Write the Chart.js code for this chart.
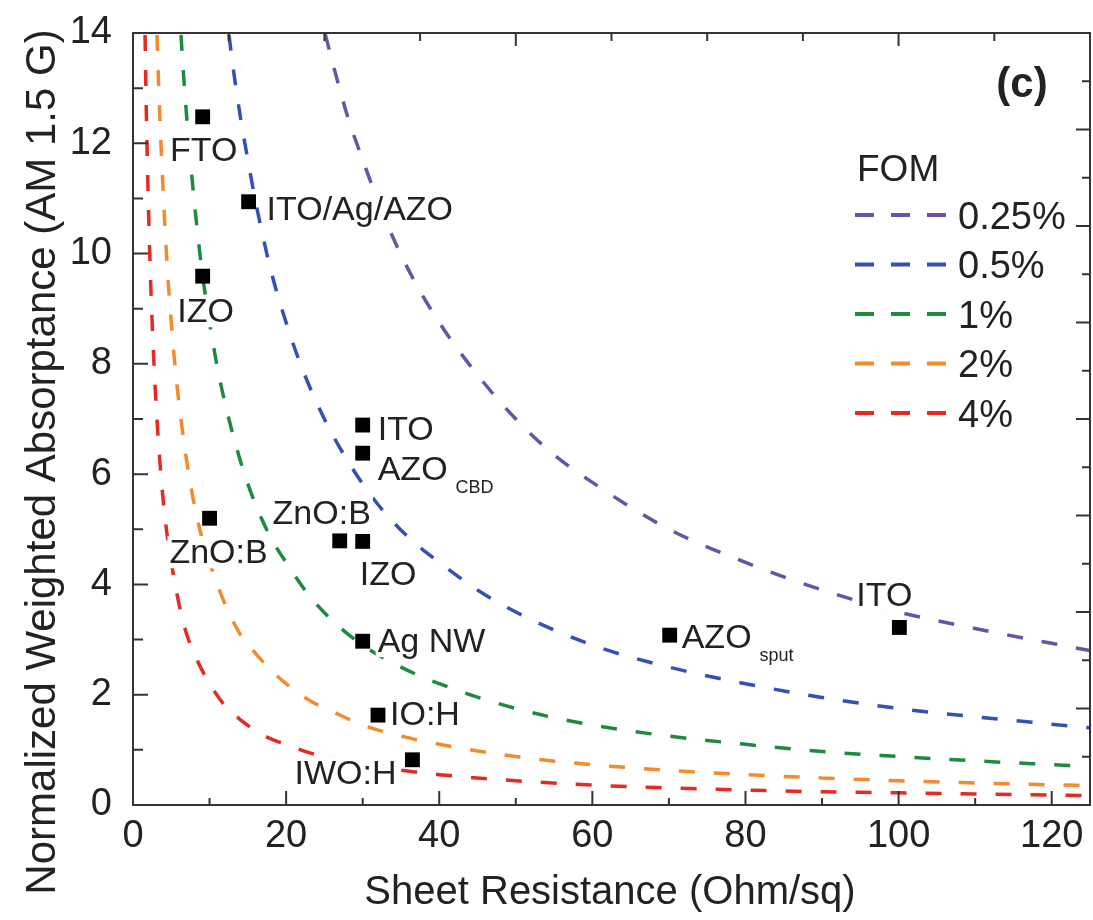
<!DOCTYPE html>
<html>
<head>
<meta charset="utf-8">
<script src="https://cdn.jsdelivr.net/npm/chart.js@4.4.1/dist/chart.umd.min.js"></script>
<style>
html, body { margin: 0; padding: 0; background: #fff; }
#wrap { width: 1093px; height: 920px; }
</style>
</head>
<body>
<div id="wrap"><canvas id="fomChart" width="1093" height="920"></canvas></div>
<script>
// axis ticks
const xTicks = [0, 20, 40, 60, 80, 100, 120];
const yTicks = [0, 2, 4, 6, 8, 10, 12, 14];

// FOM iso-lines
const fomNames = ['0.25%', '0.5%', '1%', '2%', '4%'];
const fom025X = [24, 26, 28, 30, 33, 36, 40, 45, 50, 55, 60, 70, 80, 90, 100, 110, 125];
const fom025Y = [14.6, 13.5, 12.5, 11.7, 10.6, 9.7, 8.75, 7.8, 7.0, 6.35, 5.85, 5.0, 4.4, 3.9, 3.5, 3.2, 2.8];
const fom05X = [12, 13, 14, 15, 16, 18, 20, 22, 25, 28, 32, 36, 40, 45, 50, 60, 70, 80, 90, 100, 110, 125];
const fom05Y = [14.6, 13.45, 12.5, 11.7, 10.95, 9.7, 8.75, 7.95, 7.0, 6.25, 5.45, 4.85, 4.4, 3.9, 3.5, 2.9, 2.5, 2.2, 1.95, 1.75, 1.6, 1.4];
const fom1X = [6, 6.5, 7, 8, 9, 10, 11, 12, 14, 16, 18, 20, 23, 26, 30, 35, 40, 50, 60, 70, 80, 90, 100, 110, 125];
const fom1Y = [14.6, 13.45, 12.5, 10.95, 9.7, 8.75, 7.95, 7.3, 6.25, 5.45, 4.85, 4.4, 3.8, 3.35, 2.9, 2.5, 2.2, 1.75, 1.45, 1.25, 1.1, 0.97, 0.88, 0.8, 0.7];
const fom2X = [3, 3.25, 3.5, 4, 4.5, 5, 5.5, 6, 7, 8, 9, 10, 12, 14, 16, 18, 20, 23, 26, 30, 35, 40, 50, 60, 70, 80, 90, 100, 110, 125];
const fom2Y = [14.6, 13.45, 12.5, 10.95, 9.7, 8.75, 7.95, 7.3, 6.25, 5.45, 4.85, 4.4, 3.65, 3.1, 2.75, 2.45, 2.2, 1.9, 1.7, 1.45, 1.25, 1.1, 0.88, 0.73, 0.63, 0.55, 0.49, 0.44, 0.4, 0.35];
const fom4X = [1.5, 1.75, 2, 2.25, 2.5, 3, 3.5, 4, 4.5, 5, 6, 7, 8, 9, 10, 12, 14, 16, 18, 20, 23, 26, 30, 35, 40, 50, 60, 70, 80, 90, 100, 110, 125];
const fom4Y = [14.6, 12.5, 10.95, 9.7, 8.75, 7.3, 6.25, 5.45, 4.85, 4.4, 3.65, 3.1, 2.75, 2.45, 2.2, 1.8, 1.55, 1.35, 1.2, 1.1, 0.95, 0.85, 0.73, 0.63, 0.55, 0.44, 0.36, 0.31, 0.27, 0.24, 0.22, 0.2, 0.17];

// measured TCO samples
const materials = ['FTO', 'ITO/Ag/AZO', 'IZO', 'ITO', 'AZO', 'ZnO:B', 'ZnO:B', 'IZO', 'Ag NW', 'IO:H', 'IWO:H', 'AZO', 'ITO'];
const materialSubs = ['', '', '', '', 'CBD', '', '', '', '', '', '', 'sput', ''];
const sheetRes = [9.1, 15.1, 9.1, 30, 30, 10, 27, 30, 30, 32, 36.5, 70.1, 100.1];
const absorptance = [12.48, 10.94, 9.59, 6.89, 6.38, 5.2, 4.79, 4.78, 2.97, 1.63, 0.82, 3.08, 3.22];

const fomColors = ['#6a52a8', '#3350b3', '#1d8a40', '#f28a2e', '#e52a22'];
const fontFam = '"Liberation Sans", Arial, sans-serif';
const txtColor = '#222';

// label placement: dx, dy from marker centre, alignment
const labelPos = [
    [1, 32, 'center'], [18, 6, 'left'], [3, 34, 'center'], [15, 3, 'left'], [15, 15, 'left'],
    [9, 33, 'center'], [-18, -29, 'center'], [-3, 31, 'left'], [15, -1, 'left'], [12, -2, 'left'],
    [-16, 12, 'right'], [12, 1, 'left'], [-15, -34, 'center']
];

function toPts(xs, ys) {
    return xs.map((x, i) => ({ x: x, y: ys[i] }));
}

const curveXs = [fom025X, fom05X, fom1X, fom2X, fom4X];
const curveYs = [fom025Y, fom05Y, fom1Y, fom2Y, fom4Y];

const datasets = [{
    label: 'samples',
    data: toPts(sheetRes, absorptance),
    pointStyle: 'rect',
    pointRadius: 10.5,
    backgroundColor: '#000',
    borderColor: '#000',
    borderWidth: 0,
    showLine: false
}];
fomNames.forEach((n, i) => {
    datasets.push({
        label: n,
        data: toPts(curveXs[i], curveYs[i]),
        showLine: true,
        pointRadius: 0,
        borderColor: fomColors[i],
        borderWidth: 3.5,
        borderDash: [16, 19],
        cubicInterpolationMode: 'monotone',
        fill: false
    });
});

function capText(ctx, txt, x, cy, size, align, bold) {
    ctx.font = (bold ? 'bold ' : '') + size + 'px ' + fontFam;
    ctx.textAlign = align;
    ctx.textBaseline = 'alphabetic';
    ctx.fillText(txt, x, cy + size * 0.358);
}

// white box behind a label so the dashed curves stop at the text
function clearBox(ctx, txt, x, cy, size, align) {
    ctx.font = size + 'px ' + fontFam;
    const w = ctx.measureText(txt).width;
    let left = x;
    if (align === 'center') left = x - w / 2;
    if (align === 'right') left = x - w;
    ctx.fillStyle = '#fff';
    ctx.fillRect(left - 2, cy - size * 0.45, w + 4, size * 0.95);
}

const decorPlugin = {
    id: 'decor',
    afterDraw(chart) {
        const ctx = chart.ctx;
        const a = chart.chartArea;
        const xs = chart.scales.x, ys = chart.scales.y;
        ctx.save();

        // sample labels
        materials.forEach((m, i) => {
            const px = xs.getPixelForValue(sheetRes[i]);
            const py = ys.getPixelForValue(absorptance[i]);
            const lp = labelPos[i];
            clearBox(ctx, m, px + lp[0], py + lp[1], 34, lp[2]);
            ctx.fillStyle = txtColor;
            capText(ctx, m, px + lp[0], py + lp[1], 34, lp[2], false);
            if (materialSubs[i]) {
                ctx.font = '34px ' + fontFam;
                const w = ctx.measureText(m).width;
                const sx = px + lp[0] + w + 8;
                capText(ctx, materialSubs[i], sx, py + lp[1] + 18, 18, 'left', false);
            }
        });

        ctx.strokeStyle = '#333';
        ctx.lineWidth = 2;
        ctx.strokeRect(a.left, a.top, a.right - a.left, a.bottom - a.top);

        // inward ticks
        ctx.beginPath();
        for (let v = 0; v <= 120; v += 10) {
            const px = xs.getPixelForValue(v);
            const len = v % 20 === 0 ? 14 : 7;
            ctx.moveTo(px, a.bottom); ctx.lineTo(px, a.bottom - len);
        }
        for (let v = 12.5; v < 125; v += 12.5) {
            const px = xs.getPixelForValue(v);
            const len = v % 50 === 0 ? 13 : 8;
            ctx.moveTo(px, a.top); ctx.lineTo(px, a.top + len);
        }
        for (let v = 1; v < 14; v += 1) {
            const py = ys.getPixelForValue(v);
            const len = v % 2 === 0 ? 15 : 10;
            ctx.moveTo(a.left, py); ctx.lineTo(a.left + len, py);
        }
        for (let k = 1; k < 16; k++) {
            const py = ys.getPixelForValue(k * 0.875);
            const len = k % 2 === 0 ? 14 : 8;
            ctx.moveTo(a.right, py); ctx.lineTo(a.right - len, py);
        }
        ctx.stroke();

        ctx.fillStyle = txtColor;
        // panel tag
        capText(ctx, '(c)', 1022, 82, 42, 'center', true);

        // legend
        capText(ctx, 'FOM', 857, 168, 37, 'left', false);
        fomNames.forEach((n, i) => {
            const cy = 215 + i * 49.5;
            ctx.strokeStyle = fomColors[i];
            ctx.lineWidth = 4;
            ctx.setLineDash([19, 17]);
            ctx.beginPath();
            ctx.moveTo(855, cy); ctx.lineTo(948, cy);
            ctx.stroke();
            ctx.setLineDash([]);
            ctx.fillStyle = txtColor;
            capText(ctx, n, 958, cy, 38, 'left', false);
        });

        // axis titles
        capText(ctx, 'Sheet Resistance (Ohm/sq)', 610, 890, 40, 'center', false);
        ctx.translate(40, 462);
        ctx.rotate(-Math.PI / 2);
        capText(ctx, 'Normalized Weighted Absorptance (AM 1.5 G)', 0, 0, 42, 'center', false);
        ctx.restore();
    }
};

new Chart(document.getElementById('fomChart'), {
    type: 'scatter',
    data: { datasets: datasets },
    options: {
        responsive: false,
        animation: false,
        layout: { autoPadding: false, padding: { top: 33, right: 3, left: 0, bottom: 0 } },
        plugins: { legend: { display: false }, tooltip: { enabled: false } },
        scales: {
            x: {
                type: 'linear', min: 0, max: 125,
                grid: { display: false, drawTicks: false },
                border: { display: false },
                ticks: { font: { family: fontFam, size: 38 }, color: txtColor, padding: 9, maxRotation: 0 },
                afterBuildTicks: s => { s.ticks = xTicks.map(v => ({ value: v })); },
                afterFit: s => { s.height = 115; s.paddingLeft = 0; s.paddingRight = 0; }
            },
            y: {
                type: 'linear', min: 0, max: 14,
                grid: { display: false, drawTicks: false },
                border: { display: false },
                ticks: { font: { family: fontFam, size: 38 }, color: txtColor, padding: 21 },
                afterBuildTicks: s => { s.ticks = yTicks.map(v => ({ value: v })); },
                afterFit: s => { s.width = 133; s.paddingTop = 0; s.paddingBottom = 0; }
            }
        }
    },
    plugins: [decorPlugin]
});
</script>
</body>
</html>
